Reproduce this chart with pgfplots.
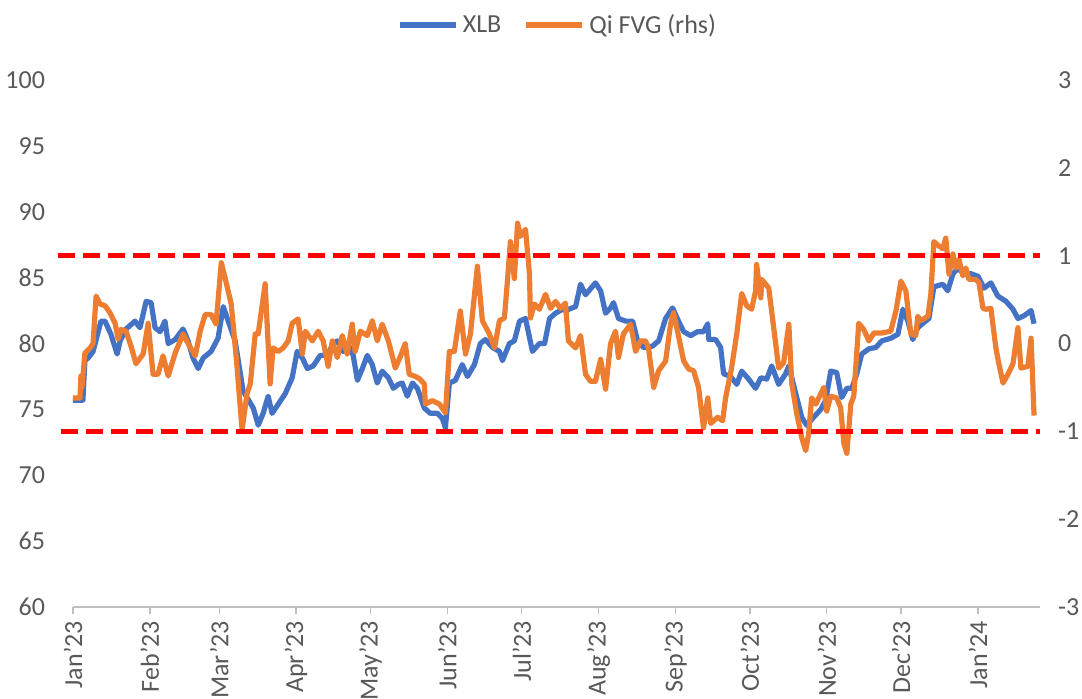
\documentclass[border=0pt]{standalone}
\usepackage{fontspec}
\setmainfont{Carlito}
\usepackage{pgfplots}
\pgfplotsset{compat=1.18}
\definecolor{xlbblue}{HTML}{4472C4}
\definecolor{fvgorange}{HTML}{ED7D31}
\definecolor{axisgray}{HTML}{BFBFBF}
\definecolor{labelgray}{HTML}{595959}
\begin{document}
\begin{tikzpicture}
\path[use as bounding box] (-36.5pt,-45.5pt) rectangle (504.5pt,303.5pt);
\begin{axis}[
  at={(0pt,0pt)}, anchor=south west, scale only axis,
  width=483.5pt, height=263.5pt,
  xmin=0, xmax=390, ymin=60, ymax=100,
  axis x line*=bottom, axis y line*=left,
  y axis line style={draw=none},
  x axis line style={draw=axisgray, line width=0.7pt, -},
  ytick={60,65,70,75,80,85,90,95,100},
  yticklabels={60,65,70,75,80,85,90,95,100},
  ytick style={draw=none},
  xtick={0,31,59,90,120,151,181,212,243,273,304,334,365},
  xticklabels={Jan'23,Feb'23,Mar'23,Apr'23,May'23,Jun'23,Jul'23,Aug'23,Sep'23,Oct'23,Nov'23,Dec'23,Jan'24},
  xtick style={draw=axisgray, line width=0.7pt},
  tick align=outside, major tick length=3.5pt,
  xticklabel style={rotate=90, anchor=east, font=\fontsize{13}{15}\selectfont, text=labelgray},
  yticklabel style={font=\fontsize{13}{15}\selectfont, text=labelgray, xshift=-7pt},
]
\addplot[xlbblue, line width=2.6pt, line join=round] coordinates {
(0,75.7) (4.0,75.7) (4.8,78.7) (6.1,78.9) (8.1,79.4) (11.3,81.7) (12.9,81.7) (15.3,80.7) (17.8,79.2) (19.0,80.2)
(21.4,81.1) (25.0,81.7) (27.0,81.2) (29.5,83.2) (31.5,83.1) (33.1,81.2) (35.1,80.9) (37.1,81.7) (38.4,80.0) (41.2,80.3)
(44.4,81.1) (46.4,80.2) (48.4,78.9) (50.5,78.1) (52.5,78.9) (55.7,79.4) (58.5,80.4) (60.6,82.8) (62.6,81.7) (65.4,80.2)
(68.6,76.4) (72.7,75.1) (74.7,73.8) (76.7,74.7) (78.7,76.0) (80.3,74.7) (82.8,75.4) (85.6,76.2) (88.4,77.4) (90.4,79.4)
(92.5,78.9) (94.5,78.1) (96.9,78.3) (99.7,79.1) (102.5,79.1) (105.0,80.0) (106.6,80.2) (109.0,79.4) (111.8,79.7) (113.0,79.1)
(114.7,77.2) (116.7,78.1) (118.7,79.1) (120.7,78.4) (122.7,77.0) (124.7,77.9) (127.2,77.4) (129.2,76.6) (131.2,76.9) (132.8,77.0)
(134.8,76.0) (136.9,77.0) (138.9,76.6) (141.7,75.1) (144.1,74.7) (147.0,74.7) (149.0,74.3) (150.2,73.6) (151.8,77.0) (154.2,77.2)
(157.0,78.4) (159.1,77.5) (161.9,78.4) (164.3,80.0) (166.3,80.3) (169.2,79.7) (172.0,79.4) (173.2,78.7) (176.0,80.0) (178.0,80.2)
(180.1,81.7) (182.5,81.9) (185.3,79.4) (188.1,80.0) (190.2,80.0) (192.2,81.9) (194.6,82.3) (197.4,82.6) (198.6,82.5) (202.7,82.8)
(204.7,84.5) (206.7,83.7) (210.7,84.6) (212.8,84.0) (214.8,82.3) (216.8,82.7) (218.0,83.1) (220.0,81.9) (222.9,81.7) (225.7,81.7)
(227.7,80.2) (230.1,79.7) (233.7,79.8) (236.2,80.2) (239.0,81.9) (241.8,82.7) (244.2,81.7) (246.3,80.9) (249.1,80.6) (251.9,80.9)
(254.3,80.9) (256.0,81.5) (256.4,80.3) (259.2,80.3) (261.2,79.7) (262.4,77.7) (265.2,77.5) (267.7,76.9) (269.7,77.9) (272.5,77.3)
(275.3,76.6) (277.4,77.4) (279.8,77.3) (281.8,78.3) (284.6,76.9) (287.4,77.7) (288.7,78.3) (291.5,76.2) (293.9,74.4) (295.9,73.8)
(298.7,74.4) (301.6,75.0) (303.6,75.7) (305.6,77.9) (308.0,77.8) (310.0,75.9) (312.1,76.6) (314.1,76.6) (316.1,77.7) (318.1,79.2)
(321.0,79.6) (323.8,79.7) (326.2,80.2) (329.8,80.4) (332.7,80.7) (334.7,82.6) (336.7,81.7) (338.7,80.3) (340.7,81.2) (343.2,81.6)
(345.2,81.9) (347.2,84.3) (350.8,84.5) (352.8,84.0) (354.9,85.3) (356.9,85.7) (359.3,85.3) (362.1,85.3) (365.0,85.1) (367.4,84.2)
(370.2,84.6) (373.0,83.6) (376.3,83.2) (379.1,82.6) (381.1,81.9) (383.5,82.1) (386.4,82.5) (387.6,81.5)
};
\end{axis}
\begin{axis}[
  at={(0pt,0pt)}, anchor=south west, scale only axis,
  width=483.5pt, height=263.5pt,
  xmin=0, xmax=390, ymin=-3, ymax=3,
  axis x line=none, axis y line*=right,
  y axis line style={draw=none},
  ytick={-3,-2,-1,0,1,2,3},
  yticklabels={-3,-2,-1,0,1,2,3},
  ytick style={draw=none},
  yticklabel style={font=\fontsize{13}{15}\selectfont, text=labelgray, anchor=west, xshift=5.5pt},
  clip=false,
  legend columns=2,
  legend style={at={(0.502,1.104)}, anchor=center, draw=none, fill=none,
    font=\fontsize{13}{15}\selectfont, text=labelgray,
    /tikz/every even column/.append style={column sep=9pt}},
  legend image code/.code={\draw[#1, line width=3pt] (0pt,0pt) -- (28pt,0pt);},
]
\addlegendimage{xlbblue}
\addlegendentry{XLB}
\addplot[fvgorange, line width=2.6pt, line join=round] coordinates {
(0,-0.62) (2.8,-0.62) (3.2,-0.37) (3.6,-0.50) (4.8,-0.11) (6.9,-0.05) (8.1,0.0) (9.3,0.54) (10.9,0.45) (12.9,0.43)
(14.9,0.35) (17.0,0.23) (18.2,0.05) (19.4,0.16) (21.4,0.14) (23.4,-0.03) (25.4,-0.23) (28.3,-0.12) (30.3,0.23) (32.3,-0.35)
(34.3,-0.35) (36.3,-0.14) (38.4,-0.37) (41.2,-0.11) (44.4,0.11) (46.4,0.0) (49.3,-0.14) (51.3,0.14) (53.3,0.33) (55.7,0.33)
(57.7,0.22) (59.8,0.92) (61.4,0.74) (63.8,0.45) (64.6,0.22) (66.2,-0.28) (68.2,-0.98) (70.2,-0.57) (71.5,-0.46) (73.5,0.11)
(74.7,0.11) (77.5,0.68) (79.5,-0.46) (80.7,-0.05) (82.8,-0.09) (84.8,-0.05) (86.8,0.03) (88.4,0.23) (90.8,0.28) (92.5,-0.12)
(93.7,0.14) (96.5,0.03) (98.9,0.14) (100.9,0.03) (102.9,-0.26) (104.6,0.03) (106.6,-0.16) (108.6,0.09) (110.6,-0.12) (112.6,0.22)
(113.8,-0.09) (115.9,0.14) (118.7,0.09) (120.7,0.26) (122.7,0.03) (124.7,0.22) (127.2,0.03) (130.0,-0.28) (132.0,-0.15) (134.0,0.0)
(135.6,-0.35) (137.7,-0.37) (139.7,-0.40) (141.7,-0.46) (142.1,-0.69) (144.9,-0.65) (147.8,-0.69) (150.2,-0.79) (151.8,-0.09) (153.8,-0.09)
(156.2,0.37) (158.3,-0.12) (160.3,0.11) (163.1,0.88) (165.1,0.26) (167.9,0.11) (170.0,-0.05) (172.0,0.26) (174.0,0.29) (175.2,0.71)
(176.4,1.16) (178.0,0.74) (179.3,1.37) (180.5,1.22) (182.5,1.30) (184.1,0.79) (184.5,0.29) (186.1,0.45) (188.1,0.39) (190.6,0.56)
(192.6,0.40) (194.6,0.48) (196.6,0.40) (198.6,0.46) (199.8,0.03) (202.7,-0.05) (204.7,0.09) (206.7,-0.35) (208.7,-0.43) (210.7,-0.43)
(212.8,-0.18) (214.8,-0.52) (216.8,0.0) (218.8,0.14) (220.0,-0.16) (222.0,0.11) (224.9,0.22) (226.9,-0.09) (228.9,0.03) (230.9,0.03)
(232.1,-0.05) (234.2,-0.50) (236.2,-0.31) (239.0,-0.20) (241.0,0.22) (242.2,0.35) (243.8,0.14) (246.3,-0.20) (248.3,-0.29) (250.3,-0.31)
(252.3,-0.50) (254.3,-0.96) (256.0,-0.62) (257.2,-0.91) (260.0,-0.84) (262.0,-0.88) (263.2,-0.62) (265.6,-0.28) (267.7,0.11) (269.7,0.57)
(271.7,0.43) (273.7,0.39) (275.3,0.60) (275.7,0.90) (277.4,0.52) (277.8,0.73) (280.6,0.63) (282.6,0.18) (284.6,-0.28) (286.6,-0.22)
(288.7,0.22) (289.9,-0.46) (291.9,-0.80) (293.9,-1.07) (295.5,-1.22) (296.7,-1.03) (297.9,-0.62) (299.6,-0.69) (301.6,-0.57) (302.8,-0.50)
(304.0,-0.77) (305.6,-0.60) (308.0,-0.62) (309.6,-0.73) (310.9,-1.14) (312.1,-1.25) (313.7,-0.69) (314.9,-0.60) (316.9,0.23) (318.9,0.16)
(321.0,0.03) (323.0,0.12) (326.2,0.12) (329.8,0.14) (331.9,0.37) (333.9,0.71) (335.9,0.60) (337.9,0.11) (339.9,0.09) (340.7,0.31)
(341.9,0.26) (344.8,0.31) (346.0,0.57) (347.2,1.16) (349.2,1.11) (350.8,1.08) (352.0,1.20) (353.3,0.79) (354.9,1.02) (356.1,0.86)
(357.3,0.96) (358.9,0.77) (360.1,0.86) (361.3,0.73) (364.1,0.73) (365.4,0.69) (367.0,0.40) (368.2,0.39) (370.2,0.40) (372.2,-0.05)
(373.4,-0.23) (375.1,-0.45) (377.1,-0.35) (379.1,-0.23) (381.1,0.18) (382.3,-0.28) (385.1,-0.26) (386.4,0.06) (387.6,-0.82)
};
\addlegendentry{Qi FVG (rhs)}
\addplot[red, line width=2.8pt, dash pattern=on 8.5pt off 4pt, forget plot] coordinates {(-6,1) (390,1)};
\addplot[red, line width=2.8pt, dash pattern=on 8.5pt off 4pt, forget plot] coordinates {(-5,-1) (390,-1)};
\end{axis}
\end{tikzpicture}
\end{document}
